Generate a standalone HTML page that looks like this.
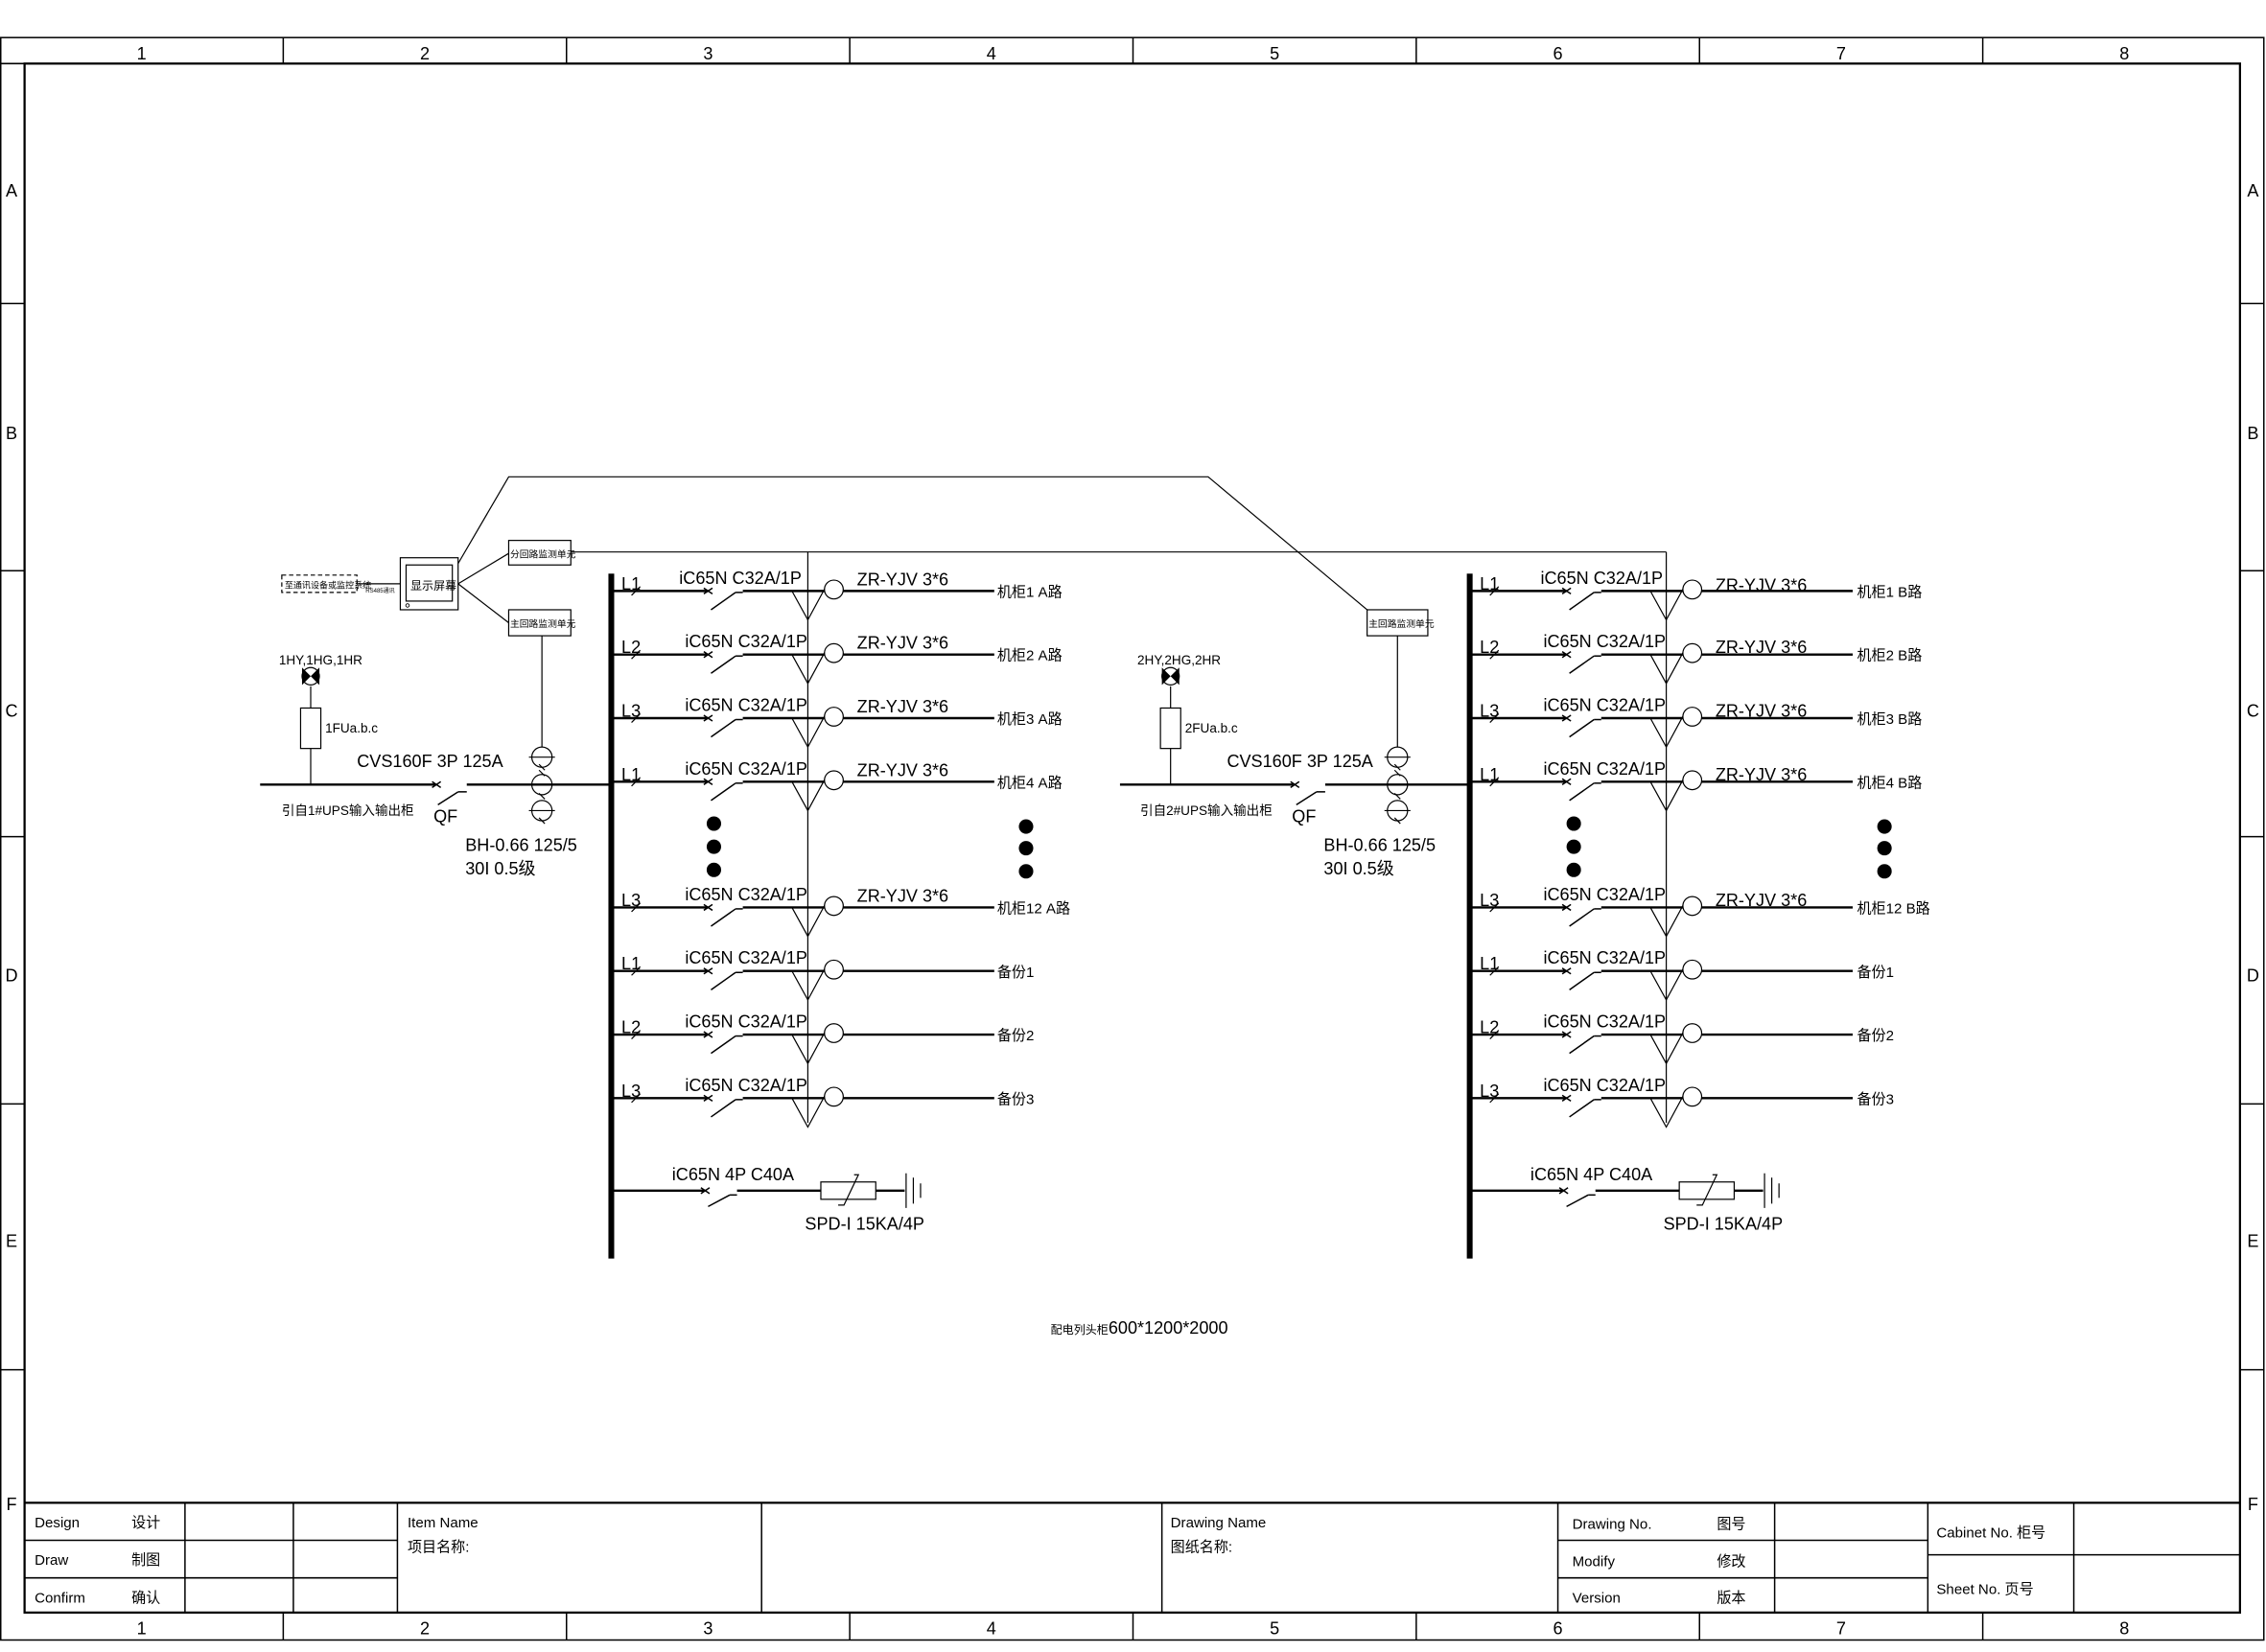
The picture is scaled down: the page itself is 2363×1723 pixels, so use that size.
<!DOCTYPE html>
<html><head><meta charset="utf-8"><style>
html,body{margin:0;padding:0;background:#fff}
svg{display:block}
text{font-family:"Liberation Sans","Noto Sans CJK SC",sans-serif;fill:#000}
.t{font-size:12px}
.s{font-size:9px}
.c{font-size:10px}
</style></head><body>
<svg width="2363" height="1723" viewBox="0 0 1568 1143.3" preserveAspectRatio="none" xmlns="http://www.w3.org/2000/svg">
<defs>
<g id="row" stroke="#000" fill="none">
<line x1="423" y1="0" x2="490" y2="0" stroke-width="1.6"/>
<path d="M487 -2 L493 2 M493 -2 L487 2" stroke-width="1"/>
<line x1="437" y1="3" x2="443" y2="-3" stroke-width="0.8"/>
<line x1="492" y1="13" x2="509" y2="1" stroke-width="1"/>
<line x1="509" y1="1" x2="514" y2="1" stroke-width="1"/>
<line x1="514" y1="0" x2="688" y2="0" stroke-width="1.6"/>
<polyline points="548,0 559,20 572,-4" stroke-width="0.8"/>
<circle cx="577" cy="-1" r="6.5" fill="#fff" stroke-width="0.8"/>
</g>
<g id="spd" stroke="#000" fill="none">
<line x1="423" y1="824" x2="488" y2="824" stroke-width="1.6"/>
<path d="M485 822 L491 826 M491 822 L485 826" stroke-width="1"/>
<line x1="490" y1="835" x2="505" y2="827" stroke-width="1"/>
<line x1="505" y1="827" x2="510" y2="827" stroke-width="1"/>
<line x1="510" y1="824" x2="626" y2="824" stroke-width="1.6"/>
<rect x="568" y="818" width="38" height="12" fill="#fff" stroke-width="0.8"/>
<polyline points="591,813 594,813 584,834 580,834" stroke-width="0.8"/>
<line x1="627" y1="812" x2="627" y2="836" stroke-width="0.8"/>
<line x1="632" y1="815" x2="632" y2="833" stroke-width="0.8"/>
<line x1="637" y1="819" x2="637" y2="829" stroke-width="0.8"/>
</g>
<g id="ct" stroke="#000" fill="none" stroke-width="0.8">
<circle cx="0" cy="524" r="7"/><circle cx="0" cy="543" r="7"/><circle cx="0" cy="561" r="7"/>
<line x1="-9" y1="524" x2="9" y2="524"/><line x1="-9" y1="561" x2="9" y2="561"/>
<path d="M-2 529 L2 533 M-2 533 L2 537 M-2 549 L2 553 M-2 566 L2 570"/>
</g>
</defs>

<!-- frame -->
<g stroke="#000" fill="none" stroke-width="1">
<rect x="0.5" y="26" width="1566" height="1109"/>
<rect x="17" y="44" width="1533" height="1072" stroke-width="1.5"/>
<line x1="0" y1="44" x2="17" y2="44"/>
<path d="M196 26V44M392 26V44M588 26V44M784 26V44M980 26V44M1176 26V44M1372 26V44"/>
<path d="M196 1116V1135M392 1116V1135M588 1116V1135M784 1116V1135M980 1116V1135M1176 1116V1135M1372 1116V1135"/>
<path d="M0 210H17M0 395H17M0 579H17M0 764H17M0 948H17"/>
<path d="M1550 210H1567M1550 395H1567M1550 579H1567M1550 764H1567M1550 948H1567"/>
<!-- title block -->
<line x1="17" y1="1040" x2="1550" y2="1040" stroke-width="1.5"/>
<path d="M128 1040V1116M203 1040V1116M275 1040V1116M527 1040V1116M804 1040V1116M1078 1040V1116M1228 1040V1116M1334 1040V1116M1435 1040V1116"/>
<path d="M17 1066H275M17 1092H275M1078 1066H1334M1078 1092H1334M1334 1076H1550"/>
</g>
<g class="t" text-anchor="middle">
<text x="98" y="41">1</text><text x="294" y="41">2</text><text x="490" y="41">3</text><text x="686" y="41">4</text><text x="882" y="41">5</text><text x="1078" y="41">6</text><text x="1274" y="41">7</text><text x="1470" y="41">8</text>
<text x="98" y="1131">1</text><text x="294" y="1131">2</text><text x="490" y="1131">3</text><text x="686" y="1131">4</text><text x="882" y="1131">5</text><text x="1078" y="1131">6</text><text x="1274" y="1131">7</text><text x="1470" y="1131">8</text>
<text x="8" y="136">A</text><text x="8" y="304">B</text><text x="8" y="496">C</text><text x="8" y="679">D</text><text x="8" y="863">E</text><text x="8" y="1045">F</text>
<text x="1559" y="136">A</text><text x="1559" y="304">B</text><text x="1559" y="496">C</text><text x="1559" y="679">D</text><text x="1559" y="863">E</text><text x="1559" y="1045">F</text>
</g>
<g class="c">
<text x="24" y="1057">Design</text><text x="91" y="1057">设计</text>
<text x="24" y="1083">Draw</text><text x="91" y="1083">制图</text>
<text x="24" y="1109">Confirm</text><text x="91" y="1109">确认</text>
<text x="282" y="1057">Item Name</text><text x="282" y="1074">项目名称:</text>
<text x="810" y="1057">Drawing Name</text><text x="810" y="1074">图纸名称:</text>
<text x="1088" y="1058">Drawing No.</text><text x="1188" y="1058">图号</text>
<text x="1088" y="1084">Modify</text><text x="1188" y="1084">修改</text>
<text x="1088" y="1109">Version</text><text x="1188" y="1109">版本</text>
<text x="1340" y="1064">Cabinet No. 柜号</text>
<text x="1340" y="1103">Sheet No.  页号</text>
</g>

<!-- ====== LEFT ====== -->
<g stroke="#000" fill="none">
<rect x="421" y="397" width="4" height="474" fill="#000" stroke="none"/>
<line x1="559" y1="382" x2="559" y2="777" stroke-width="0.8"/>
<line x1="1153" y1="382" x2="1153" y2="777" stroke-width="0.8"/>
<line x1="395" y1="382" x2="1153" y2="382" stroke-width="0.8"/>
<polyline points="317,390 352,330 836,330 946,422" stroke-width="0.8"/>
<line x1="317" y1="404" x2="352" y2="383" stroke-width="0.8"/>
<line x1="317" y1="404" x2="352" y2="431" stroke-width="0.8"/>
<rect x="352" y="374" width="43" height="17" stroke-width="0.8"/>
<rect x="352" y="422" width="43" height="18" stroke-width="0.8"/>
<rect x="277" y="386" width="40" height="36" stroke-width="0.8"/>
<rect x="281" y="391" width="32" height="25" stroke-width="0.8"/>
<circle cx="282" cy="419" r="1.2" stroke-width="0.6"/>
<rect x="195" y="398" width="52" height="12" stroke-width="0.8" stroke-dasharray="3,2"/>
<line x1="247" y1="404" x2="277" y2="404" stroke-width="0.8"/>
<line x1="375" y1="440" x2="375" y2="517" stroke-width="0.8"/>
<line x1="180" y1="543" x2="301" y2="543" stroke-width="1.6"/>
<path d="M299 541 L305 545 M305 541 L299 545" stroke-width="1"/>
<line x1="303" y1="557" x2="317" y2="548" stroke-width="1"/>
<line x1="317" y1="548" x2="323" y2="548" stroke-width="1"/>
<line x1="323" y1="543" x2="423" y2="543" stroke-width="1.6"/>
<line x1="215" y1="475" x2="215" y2="543" stroke-width="0.8"/>
<rect x="208" y="490" width="14" height="28" fill="#fff" stroke-width="0.8"/>
<circle cx="215" cy="468" r="6" fill="#fff" stroke-width="0.8"/>
<path d="M209 462 L215 468 L209 474 Z M221 462 L215 468 L221 474 Z" fill="#000" stroke="none"/>
</g>
<use href="#ct" x="375"/>
<use href="#row" y="409"/><use href="#row" y="453"/><use href="#row" y="497"/><use href="#row" y="541"/>
<use href="#row" y="628"/><use href="#row" y="672"/><use href="#row" y="716"/><use href="#row" y="760"/>
<use href="#spd"/>
<g fill="#000"><circle cx="494" cy="570" r="5"/><circle cx="494" cy="586" r="5"/><circle cx="494" cy="602" r="5"/>
<circle cx="710" cy="572" r="5"/><circle cx="710" cy="587" r="5"/><circle cx="710" cy="603" r="5"/></g>
<g class="s">
<text x="197" y="407" font-size="6">至通讯设备或监控系统</text>
<text x="253" y="410" font-size="4">RS485通讯</text>
<text x="284" y="408" font-size="8">显示屏幕</text>
<text x="353" y="386" font-size="6.5">分回路监测单元</text>
<text x="353" y="434" font-size="6.5">主回路监测单元</text>
<text x="193" y="460">1HY,1HG,1HR</text>
<text x="225" y="507">1FUa.b.c</text>
<text x="195" y="564">引自1#UPS输入输出柜</text>
</g>
<g class="t">
<text x="247" y="531">CVS160F 3P 125A</text>
<text x="300" y="569" font-family="Liberation Serif">QF</text>
<text x="322" y="589">BH-0.66 125/5</text>
<text x="322" y="605">30I 0.5级</text>
<text x="430" y="408">L1</text><text x="470" y="404">iC65N C32A/1P</text><text x="593" y="405">ZR-YJV 3*6</text><text x="690" y="413" class="c">机柜1 A路</text>
<text x="430" y="452">L2</text><text x="474" y="448">iC65N C32A/1P</text><text x="593" y="449">ZR-YJV 3*6</text><text x="690" y="457" class="c">机柜2 A路</text>
<text x="430" y="496">L3</text><text x="474" y="492">iC65N C32A/1P</text><text x="593" y="493">ZR-YJV 3*6</text><text x="690" y="501" class="c">机柜3 A路</text>
<text x="430" y="540">L1</text><text x="474" y="536">iC65N C32A/1P</text><text x="593" y="537">ZR-YJV 3*6</text><text x="690" y="545" class="c">机柜4 A路</text>
<text x="430" y="627">L3</text><text x="474" y="623">iC65N C32A/1P</text><text x="593" y="624">ZR-YJV 3*6</text><text x="690" y="632" class="c">机柜12 A路</text>
<text x="430" y="671">L1</text><text x="474" y="667">iC65N C32A/1P</text><text x="690" y="676" class="c">备份1</text>
<text x="430" y="715">L2</text><text x="474" y="711">iC65N C32A/1P</text><text x="690" y="720" class="c">备份2</text>
<text x="430" y="759">L3</text><text x="474" y="755">iC65N C32A/1P</text><text x="690" y="764" class="c">备份3</text>
<text x="465" y="817">iC65N 4P C40A</text>
<text x="557" y="851">SPD-I 15KA/4P</text>
<text x="727" y="923"><tspan font-size="8">配电列头柜</tspan>600*1200*2000</text>
</g>

<!-- ====== RIGHT ====== -->
<g stroke="#000" fill="none">
<rect x="1015" y="397" width="4" height="474" fill="#000" stroke="none"/>
<rect x="946" y="422" width="42" height="18" stroke-width="0.8"/>
<line x1="967" y1="440" x2="967" y2="517" stroke-width="0.8"/>
<line x1="775" y1="543" x2="895" y2="543" stroke-width="1.6"/>
<path d="M893 541 L899 545 M899 541 L893 545" stroke-width="1"/>
<line x1="897" y1="557" x2="911" y2="548" stroke-width="1"/>
<line x1="911" y1="548" x2="917" y2="548" stroke-width="1"/>
<line x1="917" y1="543" x2="1017" y2="543" stroke-width="1.6"/>
<line x1="810" y1="475" x2="810" y2="543" stroke-width="0.8"/>
<rect x="803" y="490" width="14" height="28" fill="#fff" stroke-width="0.8"/>
<circle cx="810" cy="468" r="6" fill="#fff" stroke-width="0.8"/>
<path d="M804 462 L810 468 L804 474 Z M816 462 L810 468 L816 474 Z" fill="#000" stroke="none"/>
</g>
<use href="#ct" x="967"/>
<g transform="translate(594,0)">
<use href="#row" y="409"/><use href="#row" y="453"/><use href="#row" y="497"/><use href="#row" y="541"/>
<use href="#row" y="628"/><use href="#row" y="672"/><use href="#row" y="716"/><use href="#row" y="760"/>
<use href="#spd"/>
</g>
<g fill="#000"><circle cx="1089" cy="570" r="5"/><circle cx="1089" cy="586" r="5"/><circle cx="1089" cy="602" r="5"/>
<circle cx="1304" cy="572" r="5"/><circle cx="1304" cy="587" r="5"/><circle cx="1304" cy="603" r="5"/></g>
<g class="s">
<text x="947" y="434" font-size="6.5">主回路监测单元</text>
<text x="787" y="460">2HY,2HG,2HR</text>
<text x="820" y="507">2FUa.b.c</text>
<text x="789" y="564">引自2#UPS输入输出柜</text>
</g>
<g class="t">
<text x="849" y="531">CVS160F 3P 125A</text>
<text x="894" y="569" font-family="Liberation Serif">QF</text>
<text x="916" y="589">BH-0.66 125/5</text>
<text x="916" y="605">30I 0.5级</text>
<text x="1024" y="408">L1</text><text x="1066" y="404">iC65N C32A/1P</text><text x="1187" y="409">ZR-YJV 3*6</text><text x="1285" y="413" class="c">机柜1 B路</text>
<text x="1024" y="452">L2</text><text x="1068" y="448">iC65N C32A/1P</text><text x="1187" y="452">ZR-YJV 3*6</text><text x="1285" y="457" class="c">机柜2 B路</text>
<text x="1024" y="496">L3</text><text x="1068" y="492">iC65N C32A/1P</text><text x="1187" y="496">ZR-YJV 3*6</text><text x="1285" y="501" class="c">机柜3 B路</text>
<text x="1024" y="540">L1</text><text x="1068" y="536">iC65N C32A/1P</text><text x="1187" y="540">ZR-YJV 3*6</text><text x="1285" y="545" class="c">机柜4 B路</text>
<text x="1024" y="627">L3</text><text x="1068" y="623">iC65N C32A/1P</text><text x="1187" y="627">ZR-YJV 3*6</text><text x="1285" y="632" class="c">机柜12 B路</text>
<text x="1024" y="671">L1</text><text x="1068" y="667">iC65N C32A/1P</text><text x="1285" y="676" class="c">备份1</text>
<text x="1024" y="715">L2</text><text x="1068" y="711">iC65N C32A/1P</text><text x="1285" y="720" class="c">备份2</text>
<text x="1024" y="759">L3</text><text x="1068" y="755">iC65N C32A/1P</text><text x="1285" y="764" class="c">备份3</text>
<text x="1059" y="817">iC65N 4P C40A</text>
<text x="1151" y="851">SPD-I 15KA/4P</text>
</g>
</svg>
</body></html>
